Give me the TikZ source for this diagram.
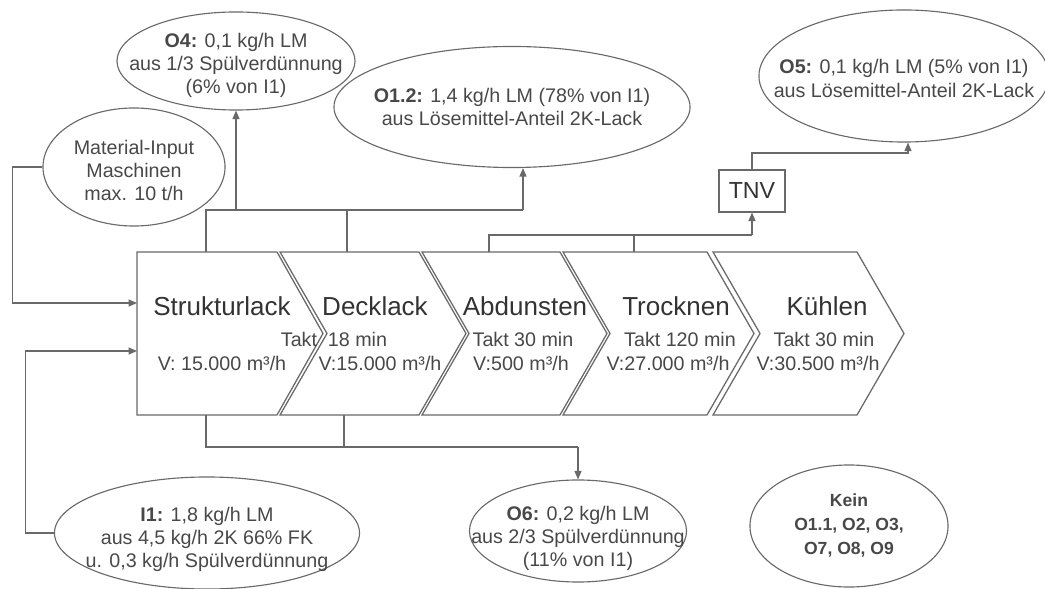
\documentclass[tikz,border=0pt]{standalone}
\usepackage{fontspec}
\setmainfont{Liberation Sans}
\usetikzlibrary{arrows.meta,shapes.geometric,calc}
\definecolor{LineGray}{RGB}{105,105,105}
\definecolor{TextGray}{RGB}{72,72,72}
% zero-width text block, lowered by half of #1
\newcommand{\ellbox}[2][0pt]{\makebox[0pt]{\raisebox{0pt}[\height][\dimexpr\depth-#1\relax]{%
  \begin{tabular}{@{}c@{}}#2\end{tabular}}}}
\tikzset{
  stage/.style={draw=LineGray,line width=0.9pt,fill=white},
  outlet/.style={ellipse,draw=LineGray,line width=0.8pt,inner sep=0pt,
    font=\fontsize{14}{16.5}\selectfont,text=TextGray},
  title/.style={font=\fontsize{18.5}{22}\selectfont,text=black!80},
  info/.style={font=\fontsize{14}{16.5}\selectfont,text=TextGray},
  pipe/.style={draw=LineGray,line width=0.8pt},
  flow/.style={pipe,-{Triangle[length=6pt,width=5pt]}}
}

\begin{document}
\begin{tikzpicture}[x=0.025cm,y=-0.025cm]
\useasboundingbox (0,0) rectangle (1045,589);

% process chain
\draw[stage] (137,252) -- (277,252) -- (323,333.5) -- (277,415)
  -- (137,415) -- cycle;
\foreach \xa/\xb in {280/419,422/560,563/707,713/857}
  \draw[stage] (\xa,252) -- (\xb,252) -- (\xb+47,333.5) -- (\xb,415)
    -- (\xa,415) -- (\xa+47,333.5) -- cycle;

\node[title] (struk) at (222,306) {Strukturlack};
\node[info] (strukv) at (222,363) {V: 15.000 m³/h};

\node[title] (deck) at (375,306) {Decklack};
\node[info] (deckt) at (334,339) {Takt~~18 min};
\node[info] (deckv) at (380,363) {V:15.000 m³/h};

\node[title] (abd) at (525,306) {Abdunsten};
\node[info] (abdt) at (523,339) {Takt 30 min};
\node[info] (abdv) at (521,363) {V:500 m³/h};

\node[title] (trock) at (676,306) {Trocknen};
\node[info] (trockt) at (680,339) {Takt 120 min};
\node[info] (trockv) at (668,363) {V:27.000 m³/h};

\node[title] (kuehl) at (827,306) {Kühlen};
\node[info] (kuehlt) at (824,339) {Takt 30 min};
\node[info] (kuehlv) at (818,363) {V:30.500 m³/h};

% inputs and outputs
\node[outlet,minimum width=5.95cm,minimum height=2.45cm] (o4) at (236,61)
  {\ellbox[7pt]{\textbf{O4:} 0,1 kg/h LM\\aus 1/3 Spülverdünnung\\(6\% von I1)}};
\node[outlet,minimum width=4.55cm,minimum height=2.95cm] (input) at (134,167)
  {\ellbox[8.5pt]{Material-Input\\Maschinen\\max. 10 t/h}};
\node[outlet,minimum width=8.9cm,minimum height=3.025cm] (o12) at (512,107)
  {\ellbox[3pt]{\textbf{O1.2:} 1,4 kg/h LM (78\% von I1)\\aus Lösemittel-Anteil 2K-Lack}};
\node[outlet,minimum width=7.25cm,minimum height=3.3cm] (o5) at (904,76)
  {\ellbox[7pt]{\textbf{O5:} 0,1 kg/h LM (5\% von I1)\\aus Lösemittel-Anteil 2K-Lack}};
\node[draw=LineGray,line width=0.8pt,minimum width=1.65cm,minimum height=1.05cm,
  inner sep=0pt,font=\fontsize{16.5}{19}\selectfont,text=black!80]
  (tnv) at (752,191) {TNV};
\node[outlet,minimum width=7.625cm,minimum height=2.8cm] (i1) at (207,533)
  {\ellbox[10pt]{\textbf{I1:} 1,8 kg/h LM\\aus 4,5 kg/h 2K 66\% FK\\u. 0,3 kg/h Spülverdünnung}};
\node[outlet,minimum width=5.425cm,minimum height=2.55cm] (o6) at (578,531)
  {\ellbox[11pt]{\textbf{O6:} 0,2 kg/h LM\\aus 2/3 Spülverdünnung\\(11\% von I1)}};
\node[outlet,minimum width=4.95cm,minimum height=3.05cm,
  font=\fontsize{12.5}{17}\selectfont\bfseries] (kein) at (849,526)
  {\ellbox{Kein\\O1.1, O2, O3,\\O7, O8, O9}};

% tap points
\coordinate (t1) at (206,252);
\coordinate (t2) at (347,252);
\coordinate (t3) at (489,252);
\coordinate (t4) at (634,252);
\coordinate (b1) at (206,415);
\coordinate (b2) at (344,415);
\coordinate (inA) at (137,303);
\coordinate (inB) at (137,351);
\coordinate (j1) at (206,210);
\coordinate (j2) at (523,210);
\coordinate (j3) at (489,235);
\coordinate (j4) at (752,235);
\coordinate (j5) at (908,153);
\coordinate (j6) at (206,447);
\coordinate (j7) at (578,447);

% feed lines
\draw[flow] (input.west) -- ++(-30,0) |- (inA);
\draw[flow] (i1.west) -- ++(-28,0) |- (inB);

% exhaust Strukturlack/Decklack
\draw[pipe] (t1) -- (j1) -- (j2);
\draw[pipe] (t2) -- (t2 |- j1);
\draw[flow] (o4.south |- j1) -- (o4.south);
\draw[flow] (j2) -- (j2 |- o12.south);

% exhaust dryer
\draw[pipe] (t3) -- (j3) -- (j4);
\draw[pipe] (t4) -- (t4 |- j3);
\draw[flow] (j4) -- (tnv.south);
\draw[flow] (tnv.north) |- (j5) -- (j5 |- o5.south);

% waste
\draw[pipe] (b1) -- (j6) -- (j7);
\draw[pipe] (b2) -- (b2 |- j6);
\draw[flow] (j7) -- (o6.north);

\end{tikzpicture}
\end{document}
